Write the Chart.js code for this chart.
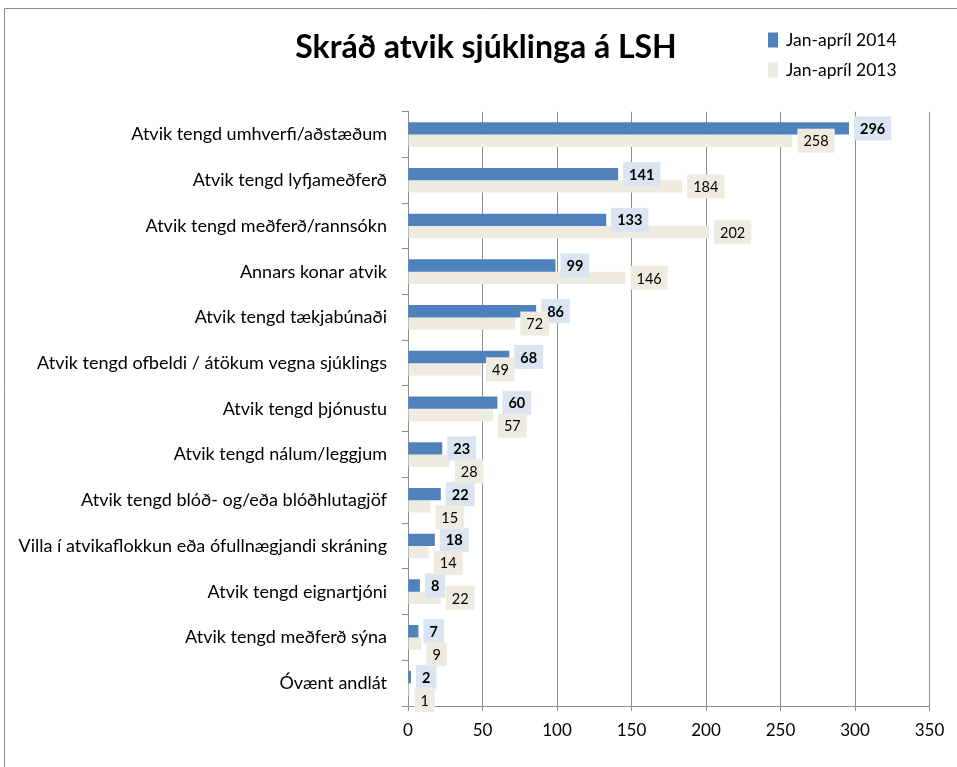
<!DOCTYPE html>
<html>
<head>
<meta charset="utf-8">
<script src="https://cdn.jsdelivr.net/npm/chart.js@4.4.0/dist/chart.umd.min.js"></script>
<style>
html,body{margin:0;padding:0;background:#fff;}
#wrap{width:957px;height:767px;position:relative;}
</style>
</head>
<body>
<div id="wrap"><canvas id="c" width="957" height="767"></canvas></div>
<script>
const categories = [
  "Atvik tengd umhverfi/aðstæðum",
  "Atvik tengd lyfjameðferð",
  "Atvik tengd meðferð/rannsókn",
  "Annars konar atvik",
  "Atvik tengd tækjabúnaði",
  "Atvik tengd ofbeldi / átökum vegna sjúklings",
  "Atvik tengd þjónustu",
  "Atvik tengd nálum/leggjum",
  "Atvik tengd blóð- og/eða blóðhlutagjöf",
  "Villa í atvikaflokkun eða ófullnægjandi skráning",
  "Atvik tengd eignartjóni",
  "Atvik tengd meðferð sýna",
  "Óvænt andlát"
];
const values2014 = [296, 141, 133, 99, 86, 68, 60, 23, 22, 18, 8, 7, 2];
const values2013 = [258, 184, 202, 146, 72, 49, 57, 28, 15, 14, 22, 9, 1];
const seriesNames = ["Jan-apríl 2014", "Jan-apríl 2013"];
const xTicks = [0, 50, 100, 150, 200, 250, 300, 350];

const FONT = "Lato, 'Open Sans', sans-serif";
const BLUE = "#4F81BD";
const BEIGE = "#EEECE1";
const GRID = "#8C8C8C";

const framePlugin = {
  id: 'frame',
  beforeDraw(chart) {
    const ctx = chart.ctx;
    ctx.save();
    ctx.strokeStyle = GRID;
    ctx.lineWidth = 1;
    ctx.beginPath();
    ctx.moveTo(4.5, 767);
    ctx.lineTo(4.5, 8.5);
    ctx.lineTo(957, 8.5);
    ctx.stroke();
    ctx.restore();
  }
};

const legendPlugin = {
  id: 'customLegend',
  afterDraw(chart) {
    const ctx = chart.ctx;
    ctx.save();
    chart.data.datasets.forEach((ds, i) => {
      const y = 40 + i * 30;
      ctx.fillStyle = ds.backgroundColor;
      ctx.fillRect(768, y - 7.5, 10, 15);
      ctx.fillStyle = "#000";
      ctx.font = "17.5px " + FONT;
      ctx.textBaseline = "middle";
      ctx.textAlign = "left";
      ctx.fillText(ds.label, 786, y);
    });
    ctx.restore();
  }
};

const labelPlugin = {
  id: 'valueLabels',
  afterDatasetsDraw(chart) {
    const ctx = chart.ctx;
    const H = 24;
    const fontFor = di => (di === 0 ? "bold " : "") + "14.5px " + FONT;
    const boxes = chart.data.datasets.map((ds, di) => {
      const meta = chart.getDatasetMeta(di);
      ctx.font = fontFor(di);
      return meta.data.map((bar, i) => {
        const txt = String(ds.data[i]);
        const w = ctx.measureText(txt).width + 12;
        return { txt, left: bar.x + 5, w, top: bar.y - H / 2 };
      });
    });
    // avoid collisions: push the second-series label below the first when they clash
    boxes[1].forEach((b, i) => {
      const a = boxes[0][i];
      const overlapX = Math.min(a.left + a.w, b.left + b.w) - Math.max(a.left, b.left);
      if (overlapX > 8 && b.top < a.top + H) {
        b.top = a.top + H - 1;
      }
    });
    ctx.save();
    boxes.forEach((list, di) => {
      list.forEach(b => {
        ctx.fillStyle = di === 0 ? "#DBE5F1" : BEIGE;
        ctx.fillRect(b.left, b.top, b.w, H);
      });
    });
    boxes.forEach((list, di) => {
      ctx.font = fontFor(di);
      ctx.fillStyle = "#000";
      ctx.textAlign = "center";
      ctx.textBaseline = "middle";
      list.forEach(b => {
        ctx.fillText(b.txt, b.left + b.w / 2, b.top + H / 2 + 1);
      });
    });
    ctx.restore();
  }
};

new Chart(document.getElementById('c'), {
  type: 'bar',
  data: {
    labels: categories,
    datasets: [
      { label: seriesNames[0], data: values2014, backgroundColor: BLUE, categoryPercentage: 0.54, barPercentage: 1.0 },
      { label: seriesNames[1], data: values2013, backgroundColor: BEIGE, categoryPercentage: 0.54, barPercentage: 1.0 }
    ]
  },
  options: {
    indexAxis: 'y',
    responsive: false,
    animation: false,
    layout: { padding: { left: 16, right: 1, top: 0, bottom: 0 } },
    plugins: {
      legend: { display: false },
      tooltip: { enabled: false },
      title: {
        display: true,
        text: "Skráð atvik sjúklinga á LSH",
        color: "#000",
        font: { family: FONT, size: 32, weight: 'bold', lineHeight: 1.2 },
        padding: { top: 28, bottom: 45.3 }
      }
    },
    scales: {
      x: {
        min: 0, max: 350,
        afterBuildTicks(scale) { scale.ticks = xTicks.map(v => ({ value: v })); },
        afterFit(scale) { scale.height = 61; },
        grid: { color: GRID, drawOnChartArea: true, drawTicks: true, tickLength: 5, tickColor: GRID },
        border: { display: true, color: GRID },
        ticks: { color: "#000", font: { family: FONT, size: 17 }, padding: 9 }
      },
      y: {
        afterFit(scale) { scale.width = 392; },
        grid: { drawOnChartArea: false, drawTicks: true, tickLength: 6, tickColor: GRID, offset: true },
        border: { display: true, color: GRID },
        ticks: { color: "#000", font: { family: FONT, size: 18 }, padding: 15, autoSkip: false }
      },
      yRight: {
        type: 'linear',
        axis: 'y',
        position: 'right',
        display: true,
        afterFit(scale) { scale.width = 26.5; },
        grid: { display: false, drawTicks: false },
        border: { display: false },
        ticks: { display: false }
      }
    }
  },
  plugins: [framePlugin, labelPlugin, legendPlugin]
});
</script>
</body>
</html>
